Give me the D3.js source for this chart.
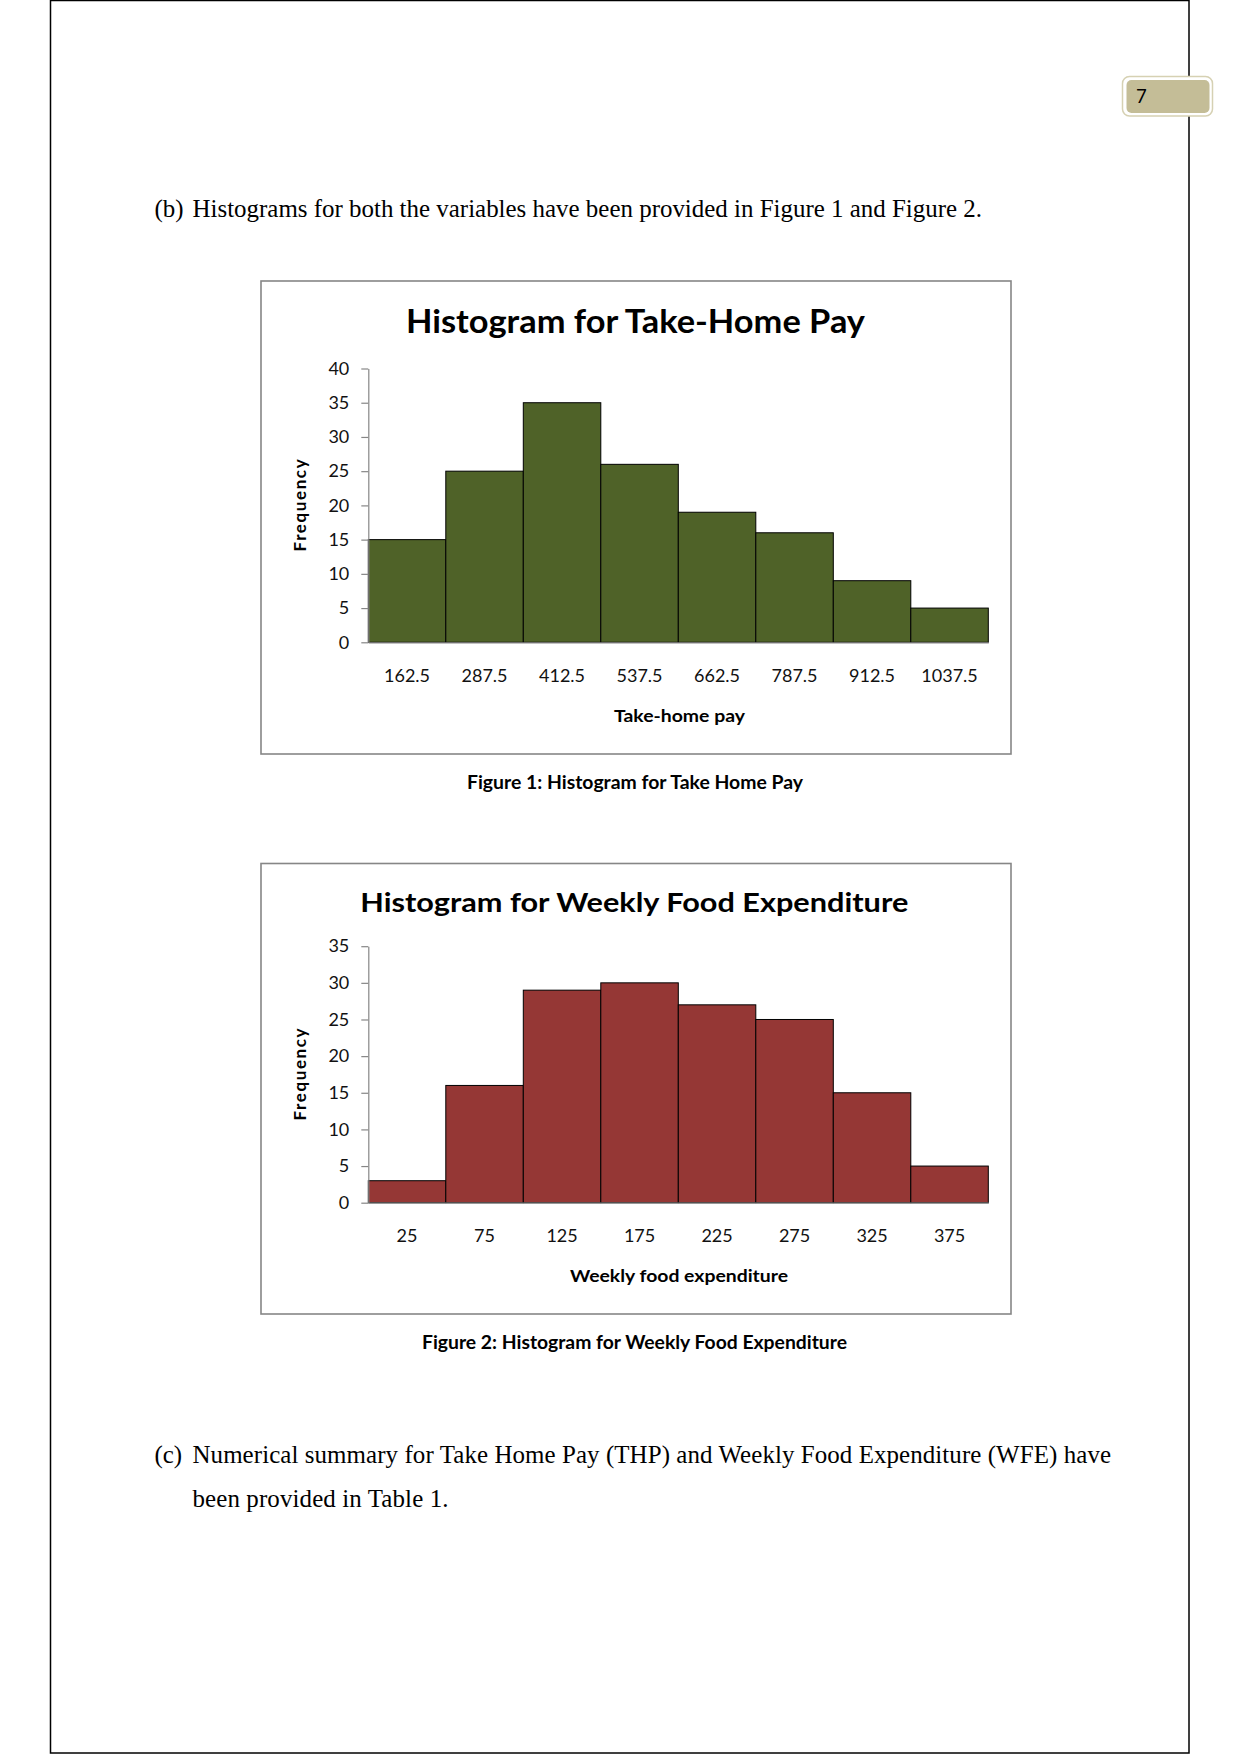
<!DOCTYPE html>
<html>
<head>
<meta charset="utf-8">
<script src="https://cdn.jsdelivr.net/npm/d3@7"></script>
<style>
  html, body { margin: 0; padding: 0; background: #fff; }
  svg { display: block; }
</style>
</head>
<body>
<svg id="page" width="1241" height="1754"></svg>
<script>
// ---- data ----
const thpBins = ["162.5", "287.5", "412.5", "537.5", "662.5", "787.5", "912.5", "1037.5"];
const thpFreq = [15, 25, 35, 26, 19, 16, 9, 5];
const thpTicks = [0, 5, 10, 15, 20, 25, 30, 35, 40];

const wfeBins = ["25", "75", "125", "175", "225", "275", "325", "375"];
const wfeFreq = [3, 16, 29, 30, 27, 25, 15, 5];
const wfeTicks = [0, 5, 10, 15, 20, 25, 30, 35];

const svg = d3.select("#page");
const CAL = "Lato, 'Open Sans', sans-serif";
const SERIF = "'Liberation Serif', 'Times New Roman', serif";

// page border
svg.append("rect").attr("x", 50.5).attr("y", 0.5).attr("width", 1138.5).attr("height", 1752.5)
  .attr("fill", "none").attr("stroke", "#000").attr("stroke-width", 1.5);

// page number box
svg.append("rect").attr("x", 1122.5).attr("y", 76.5).attr("width", 90).attr("height", 39.5)
  .attr("rx", 7).attr("fill", "#fff").attr("stroke", "#d6d1b3").attr("stroke-width", 1.5);
svg.append("rect").attr("x", 1126.5).attr("y", 80).attr("width", 83).attr("height", 33)
  .attr("rx", 5).attr("fill", "#c4bd97");
svg.append("text").attr("x", 1136).attr("y", 102.5).attr("font-family", CAL)
  .attr("font-size", 18.5).attr("fill", "#000").text("7");

// body text helpers
function bodyText(x, y, str) {
  return svg.append("text").attr("x", x).attr("y", y).attr("font-family", SERIF)
    .attr("fill", "#000").text(str);
}
const bLine = bodyText(192.5, 217, "Histograms for both the variables have been provided in Figure 1 and Figure 2.")
  .attr("font-size", 100);
const natural = bLine.node().getComputedTextLength();
const bodySize = 100 * 790 / natural;
bLine.attr("font-size", bodySize);
bodyText(154.4, 217, "(b)").attr("font-size", bodySize);
bodyText(154.4, 1463, "(c)").attr("font-size", bodySize);
bodyText(192.5, 1463, "Numerical summary for Take Home Pay (THP) and Weekly Food Expenditure (WFE) have")
  .attr("font-size", bodySize).attr("textLength", 918.5).attr("lengthAdjust", "spacing");
bodyText(192.5, 1507, "been provided in Table 1.").attr("font-size", bodySize)
  .attr("textLength", 256).attr("lengthAdjust", "spacing");

// chart drawing
function fitText(sel, width) {
  sel.attr("textLength", width).attr("lengthAdjust", "spacingAndGlyphs");
  return sel;
}

function histogram(cfg) {
  const g = svg.append("g");
  g.append("rect").attr("x", 261).attr("y", cfg.frameTop).attr("width", 750)
    .attr("height", cfg.frameBottom - cfg.frameTop)
    .attr("fill", "#fff").attr("stroke", "#868686").attr("stroke-width", 1.6);

  fitText(g.append("text").attr("x", cfg.titleX).attr("y", cfg.titleY)
    .attr("font-family", CAL).attr("font-weight", "bold").attr("font-size", cfg.titleSize)
    .attr("fill", "#000").text(cfg.title), cfg.titleW);

  const x = d3.scaleBand().domain(cfg.bins).range([368.3, 988.3]).padding(0);
  const y = d3.scaleLinear().domain([0, d3.max(cfg.ticks)]).range([cfg.y0, cfg.yTop]);

  g.selectAll("rect.bar").data(cfg.freq).join("rect").attr("class", "bar")
    .attr("x", (d, i) => x(cfg.bins[i]))
    .attr("y", d => y(d))
    .attr("width", x.bandwidth())
    .attr("height", d => y(0) - y(d))
    .attr("fill", cfg.color).attr("stroke", "#000").attr("stroke-width", 1);

  const ya = g.append("g").attr("transform", "translate(368.3,0)")
    .call(d3.axisLeft(y).tickValues(cfg.ticks).tickSize(7).tickSizeOuter(0).tickPadding(12));
  ya.select(".domain").attr("stroke", "#868686").attr("stroke-width", 1.2);
  ya.selectAll(".tick line").attr("stroke", "#868686").attr("stroke-width", 1.2);
  ya.selectAll(".tick text").attr("font-family", CAL).attr("font-size", 18).attr("fill", "#111");

  const xa = g.append("g").attr("transform", `translate(0,${cfg.y0})`)
    .call(d3.axisBottom(x).tickSize(0).tickPadding(27));
  xa.select(".domain").attr("stroke", "#868686").attr("stroke-width", 1.2);
  xa.selectAll(".tick text").attr("font-family", CAL).attr("font-size", 18).attr("fill", "#111");

  fitText(g.append("text").attr("x", cfg.xTitleX).attr("y", cfg.xTitleY)
    .attr("font-family", CAL).attr("font-weight", "bold").attr("font-size", 17)
    .attr("fill", "#000").text(cfg.xTitle), cfg.xTitleW);

  g.append("text").attr("transform", `translate(306,${(cfg.y0 + cfg.yTop) / 2}) rotate(-90)`)
    .attr("text-anchor", "middle").attr("font-family", CAL).attr("font-weight", "bold")
    .attr("font-size", 17).attr("fill", "#000")
    .attr("textLength", 92).attr("lengthAdjust", "spacing").text("Frequency");

  fitText(svg.append("text").attr("x", cfg.capX).attr("y", cfg.capY)
    .attr("font-family", CAL).attr("font-weight", "bold").attr("font-size", 19.5)
    .attr("fill", "#000").text(cfg.caption), cfg.capW);
}

histogram({
  frameTop: 281, frameBottom: 754,
  title: "Histogram for Take-Home Pay", titleX: 406, titleY: 333, titleSize: 31.5, titleW: 459,
  bins: thpBins, freq: thpFreq, ticks: thpTicks, y0: 642.3, yTop: 368.5, color: "#4f6228",
  xTitle: "Take-home pay", xTitleX: 614, xTitleY: 722, xTitleW: 131,
  caption: "Figure 1: Histogram for Take Home Pay", capX: 467, capY: 789, capW: 336
});

histogram({
  frameTop: 863.5, frameBottom: 1314,
  title: "Histogram for Weekly Food Expenditure", titleX: 360.3, titleY: 912, titleSize: 27, titleW: 548,
  bins: wfeBins, freq: wfeFreq, ticks: wfeTicks, y0: 1202.7, yTop: 946.2, color: "#953735",
  xTitle: "Weekly food expenditure", xTitleX: 570, xTitleY: 1282, xTitleW: 218,
  caption: "Figure 2: Histogram for Weekly Food Expenditure", capX: 422, capY: 1349, capW: 425
});
</script>
</body>
</html>
